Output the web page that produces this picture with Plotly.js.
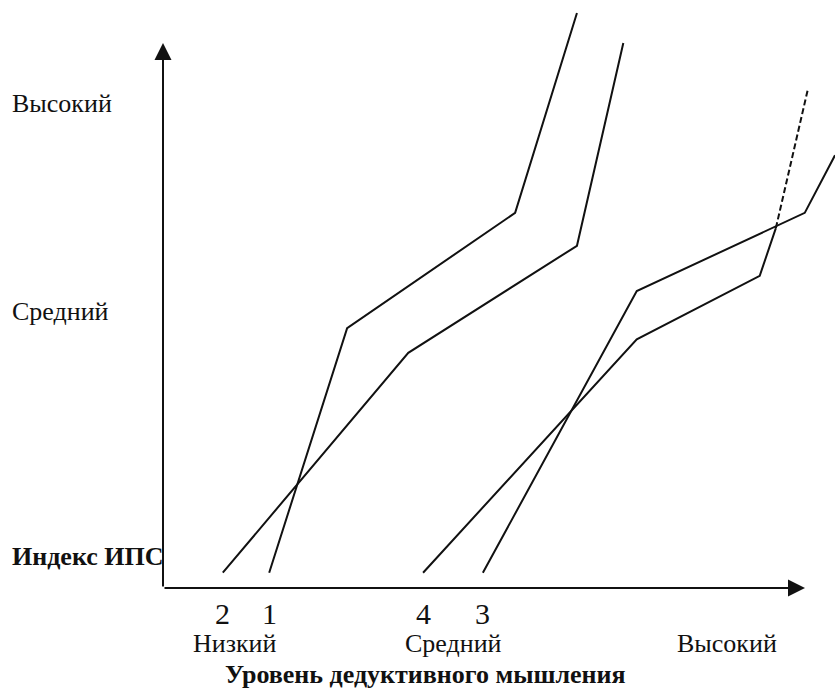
<!DOCTYPE html>
<html>
<head>
<meta charset="utf-8">
<script src="https://cdn.plot.ly/plotly-3.0.1.min.js"></script>
<style>html,body{margin:0;padding:0;background:#fff;}#chart{width:835px;height:693px;}</style>
</head>
<body>
<div id="chart"></div>
<script>
// Curves (x: deductive thinking level, y: IPS index), arbitrary 0-100 units
const line1X = [15.8, 27.4, 52.4, 61.6];
const line1Y = [2.6, 44.2, 63.8, 97.8];
const line2X = [8.9, 36.5, 61.6, 68.5];
const line2Y = [2.6, 40.0, 58.2, 92.7];
const line3X = [47.6, 70.5, 95.5, 100.0];
const line3Y = [2.6, 50.5, 63.8, 73.6];
const line4X = [38.7, 70.5, 88.8, 91.2];
const line4Y = [2.6, 42.3, 53.1, 61.2];
const line4DashX = [91.2, 96.0];
const line4DashY = [61.2, 85.0];

const lineNames = ['1', '2', '3', '4'];
const yLevelLabels = ['Высокий', 'Средний'];
const yAxisLabel = 'Индекс ИПС';
const xLevelLabels = ['Низкий', 'Средний', 'Высокий'];
const xAxisLabel = 'Уровень дедуктивного мышления';

// layout helpers (pixel -> paper)
const W = 835, H = 693, L = 163, PW = 672, PH = 588;
const paperX = px => (px - L) / PW;
const paperY = py => (PH - py) / PH;

const lineStyle = {color: '#111', width: 2};
const traces = [
  {x: line1X, y: line1Y, name: lineNames[0]},
  {x: line2X, y: line2Y, name: lineNames[1]},
  {x: line3X, y: line3Y, name: lineNames[2]},
  {x: line4X, y: line4Y, name: lineNames[3]},
].map(t => Object.assign(t, {type: 'scatter', mode: 'lines', line: lineStyle, hoverinfo: 'skip'}));
traces.push({x: line4DashX, y: line4DashY, type: 'scatter', mode: 'lines', name: lineNames[3],
  line: {color: '#111', width: 2, dash: '6px,3px'}, hoverinfo: 'skip'});

const serif = 'Liberation Serif, Times New Roman, serif';
const fontReg = {family: serif, size: 26, color: '#111'};
const fontNum = {family: serif, size: 30, color: '#111'};
const fontBold = {family: serif, size: 26, color: '#111', weight: 'bold'};

const annotations = [];
// axis arrows
annotations.push({x: 0, y: paperY(43) * 100, ax: 0, ay: 0, xref: 'x', yref: 'y', axref: 'x', ayref: 'y',
  showarrow: true, arrowhead: 2, arrowsize: 1.7, arrowwidth: 2, arrowcolor: '#111', text: ''});
annotations.push({x: paperX(805) * 100, y: 0, ax: 0, ay: 0, xref: 'x', yref: 'y', axref: 'x', ayref: 'y',
  showarrow: true, arrowhead: 2, arrowsize: 1.7, arrowwidth: 2, arrowcolor: '#111', text: ''});
// y level labels
const yLabelPy = [103, 311];
yLevelLabels.forEach((t, i) => annotations.push({text: t, xref: 'paper', yref: 'paper',
  x: paperX(10), y: paperY(yLabelPy[i]), xanchor: 'left', yanchor: 'middle', showarrow: false, font: fontReg}));
annotations.push({text: '<b>' + yAxisLabel + '</b>', xref: 'paper', yref: 'paper',
  x: paperX(10), y: paperY(556), xanchor: 'left', yanchor: 'middle', showarrow: false, font: fontBold});
// curve numbers under their start points
[[line1X, 0], [line2X, 1], [line3X, 2], [line4X, 3]].forEach(([xs, i]) => annotations.push({
  text: lineNames[i], xref: 'x', yref: 'paper', x: xs[0], y: paperY(613), xanchor: 'center', yanchor: 'middle',
  showarrow: false, font: fontNum}));
// x level labels
const xLabelPx = [235, 453, 727];
xLevelLabels.forEach((t, i) => annotations.push({text: t, xref: 'paper', yref: 'paper',
  x: paperX(xLabelPx[i]), y: paperY(643), xanchor: 'center', yanchor: 'middle', showarrow: false, font: fontReg}));
annotations.push({text: '<b>' + xAxisLabel + '</b>', xref: 'paper', yref: 'paper',
  x: paperX(425), y: paperY(674), xanchor: 'center', yanchor: 'middle', showarrow: false, font: fontBold});

const layout = {
  width: W, height: H,
  margin: {l: L, r: W - L - PW, t: 0, b: H - PH, pad: 0},
  paper_bgcolor: '#fff', plot_bgcolor: '#fff',
  showlegend: false,
  xaxis: {range: [0, 100], visible: false, fixedrange: true},
  yaxis: {range: [0, 100], visible: false, fixedrange: true},
  annotations: annotations
};
Plotly.newPlot('chart', traces, layout, {staticPlot: true, displayModeBar: false});
</script>
</body>
</html>
